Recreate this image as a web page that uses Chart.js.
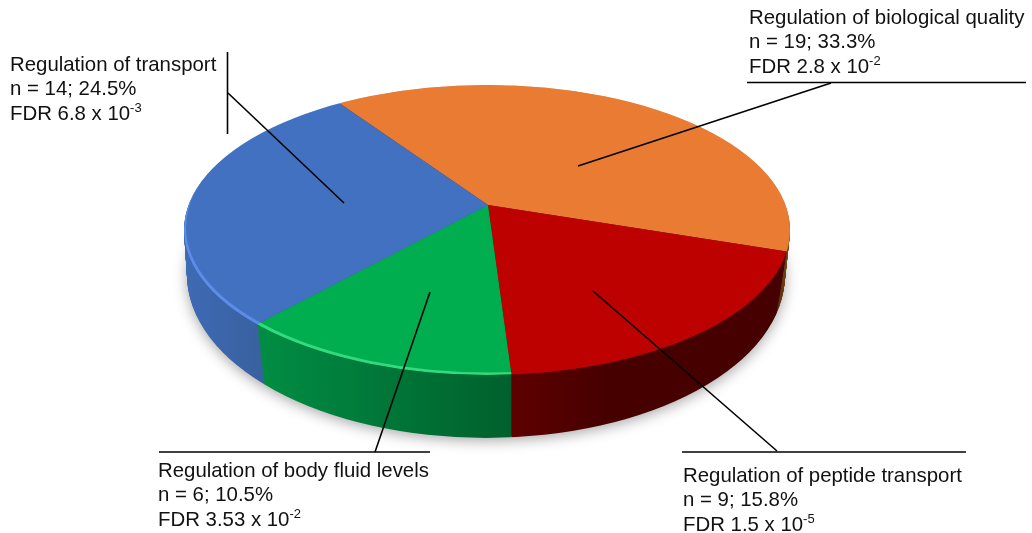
<!DOCTYPE html>
<html>
<head>
<meta charset="utf-8">
<style>
  html, body { margin: 0; padding: 0; background: #fff; }
  canvas { display: block; }
</style>
<script src="https://cdn.jsdelivr.net/npm/chart.js@4/dist/chart.umd.js"></script>
</head>
<body>
<canvas id="pieChart" width="1032" height="533"></canvas>
<script>
const categories = ['Regulation of biological quality', 'Regulation of peptide transport', 'Regulation of body fluid levels', 'Regulation of transport'];
const counts = [19, 9, 6, 14];
const percents = ['33.3', '15.8', '10.5', '24.5'];
const fdrBase = ['2.8', '1.5', '3.53', '6.8'];
const fdrExp = ['-2', '-5', '-2', '-3'];

const topColors = ['#e97c32', '#bd0000', '#00ae4f', '#4371c1'];
const rimColors = ['#e97c32', '#bd0000', '#35d97f', '#5c8ce6'];
const wallColors = [
    ['#5a3010', '#7a4a20'],
    ['#5e0000', '#460000'],
    ['#008c43', '#00602d'],
    ['#3f6ab4', '#38609f']
];

// Disc geometry in pixels: top face and the smaller-looking bottom edge
const apex = { x: 488, y: 205 };
const discTop = { x: 487, y: 230, a: 303, b: 145 };
const discBottom = { x: 486, y: 275, a: 299, b: 163 };
const depth = 63;
const squash = 0.455;
const grow = 1.5;

// Text blocks and leader lines
const labelPos = [
    { x: 749, y: 24 },
    { x: 683, y: 482 },
    { x: 158, y: 477 },
    { x: 10, y: 71 }
];
const leaders = [
    [[747, 82.5], [1026, 82.5]], [[831, 83], [578, 166]],
    [[682, 452], [966, 452]], [[777, 451], [593, 291]],
    [[159, 452], [430, 452]], [[375, 452], [430, 292]],
    [[227.5, 52], [227.5, 134]], [[228, 93], [344, 203]]
];

// Outline of the disc t of the way down the wall
function discPath(ctx, t) {
    const mix = k => discTop[k] + (discBottom[k] - discTop[k]) * t;
    ctx.beginPath();
    ctx.ellipse(mix('x'), mix('y'), mix('a'), mix('b'), 0, 0, Math.PI * 2);
}

// Lay the flat pie over the apex, squashed into perspective
function pieTransform(ctx, arc, dy) {
    ctx.translate(apex.x, apex.y + dy);
    ctx.scale(grow, grow * squash);
    ctx.translate(-arc.x, -arc.y);
}

function drawArcs(ctx, arcs, fills) {
    arcs.forEach((arc, i) => {
        const saved = arc.options;
        const fill = fills(i, arc);
        arc.options = { backgroundColor: fill, borderColor: fill, borderWidth: 0, spacing: 0, offset: 0, borderRadius: 0, borderAlign: 'center', borderDash: [], borderDashOffset: 0, circular: true };
        arc.draw(ctx);
        arc.options = saved;
    });
}

const pie3d = {
    id: 'pie3d',
    beforeDatasetsDraw(chart) {
        const ctx = chart.ctx;
        const arcs = chart.getDatasetMeta(0).data;

        // soft shadow under the disc
        ctx.save();
        ctx.shadowColor = 'rgba(0,0,0,0.35)';
        ctx.shadowBlur = 14;
        ctx.shadowOffsetY = 4;
        ctx.fillStyle = '#fff';
        discPath(ctx, 0.98);
        ctx.fill();
        ctx.restore();

        // side wall, stacked from the bottom up
        for (let d = depth; d > 0; d--) {
            ctx.save();
            discPath(ctx, d / depth);
            ctx.clip();
            pieTransform(ctx, arcs[0], d);
            drawArcs(ctx, arcs, (i, arc) => {
                const g = ctx.createLinearGradient(arc.x - discTop.a / grow, 0, arc.x + discTop.a / grow, 0);
                const c = wallColors[i];
                if (i === 3) { g.addColorStop(0, c[0]); g.addColorStop(0.14, c[1]); }
                else if (i === 2) { g.addColorStop(0.13, c[0]); g.addColorStop(0.54, c[1]); }
                else if (i === 1) { g.addColorStop(0.54, c[0]); g.addColorStop(0.7, c[1]); }
                else { g.addColorStop(0.98, c[0]); g.addColorStop(1, c[1]); }
                return g;
            });
            ctx.restore();
        }

        // top face
        ctx.save();
        discPath(ctx, 0);
        ctx.clip();
        ctx.save();
        pieTransform(ctx, arcs[0], 0);
        drawArcs(ctx, arcs, i => topColors[i]);
        ctx.restore();
        // light rim along the lower left
        ctx.beginPath();
        ctx.ellipse(discTop.x, discTop.y, discTop.a, discTop.b, 0, 0, Math.PI * 2);
        ctx.ellipse(discTop.x + 2, discTop.y - 2.5, discTop.a, discTop.b, 0, 0, Math.PI * 2);
        ctx.clip('evenodd');
        pieTransform(ctx, arcs[0], 0);
        drawArcs(ctx, arcs, i => rimColors[i]);
        ctx.restore();

        // leader lines and labels
        ctx.save();
        ctx.strokeStyle = '#000';
        ctx.lineWidth = 1.6;
        leaders.forEach(seg => {
            ctx.beginPath();
            ctx.moveTo(seg[0][0], seg[0][1]);
            ctx.lineTo(seg[1][0], seg[1][1]);
            ctx.stroke();
        });
        ctx.fillStyle = '#111';
        ctx.textBaseline = 'alphabetic';
        categories.forEach((name, i) => {
            const p = labelPos[i];
            ctx.font = '20.4px "Liberation Sans"';
            ctx.fillText(name, p.x, p.y);
            ctx.fillText('n = ' + counts[i] + '; ' + percents[i] + '%', p.x, p.y + 24);
            const fdr = 'FDR ' + fdrBase[i] + ' x 10';
            ctx.fillText(fdr, p.x, p.y + 48.5);
            const w = ctx.measureText(fdr).width;
            ctx.font = '13px "Liberation Sans"';
            ctx.fillText(fdrExp[i], p.x + w, p.y + 41);
        });
        ctx.restore();
        return false;
    }
};

new Chart(document.getElementById('pieChart'), {
    type: 'pie',
    data: {
        labels: categories,
        datasets: [{
            data: counts,
            backgroundColor: topColors,
            borderWidth: 0
        }]
    },
    options: {
        responsive: false,
        animation: false,
        rotation: -33.6,
        layout: { padding: 0 },
        plugins: {
            legend: { display: false },
            tooltip: { enabled: false }
        }
    },
    plugins: [pie3d]
});
</script>
</body>
</html>
